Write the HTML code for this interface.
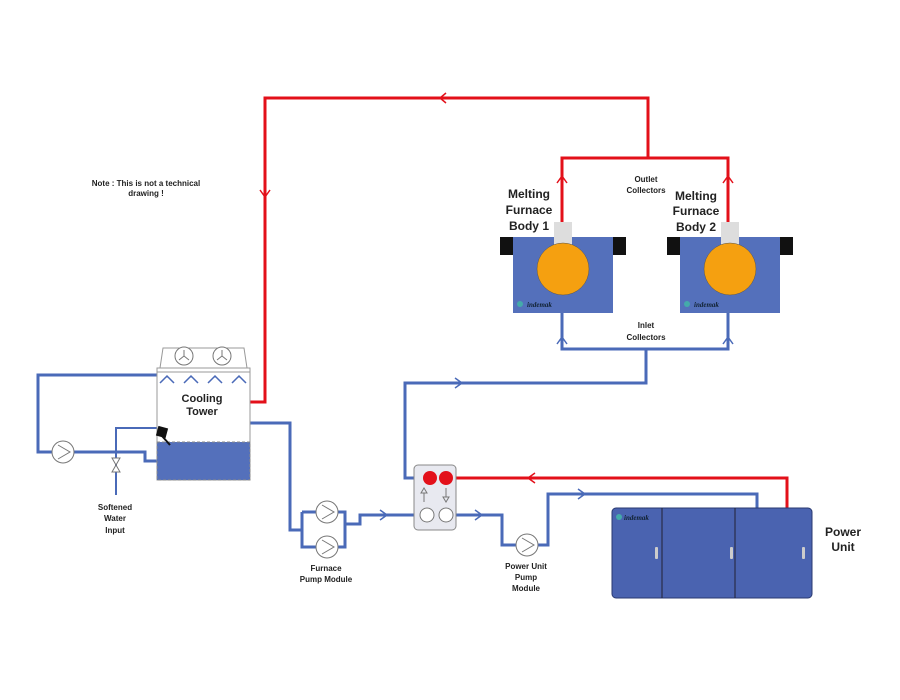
<!DOCTYPE html>
<html><head><meta charset="utf-8"><style>
html,body{margin:0;padding:0;background:#fff;}
svg{display:block;font-family:"Liberation Sans",Arial,sans-serif;font-weight:bold;}
</style></head><body>
<svg width="900" height="700" viewBox="0 0 900 700" xmlns="http://www.w3.org/2000/svg">
<g fill="none" stroke-linejoin="miter">
<!-- red lines -->
<g stroke="#e3101a" stroke-width="3">
<polyline points="250,402 265,402 265,98 648,98 648,158"/>
<polyline points="562,222 562,158 728,158 728,222"/>
<polyline points="446,478 787,478 787,508"/>
<polyline points="446,93 440,98 446,103" stroke-width="1.5"/>
<polyline points="260,190 265,197 270,190" stroke-width="1.5"/>
<polyline points="557,183 562,176 567,183" stroke-width="1.5"/>
<polyline points="723,183 728,176 733,183" stroke-width="1.5"/>
<polyline points="535,473 528,478 535,483" stroke-width="1.5"/>
</g>
<!-- blue lines -->
<g stroke="#4a6ab8" stroke-width="3">
<polyline points="562,313 562,349 728,349 728,313"/>
<polyline points="646,349 646,383 405,383 405,478 420,478"/>
<polyline points="250,423 290,423 290,530 302,530"/>
<polyline points="302,512 302,547 345,547 345,512 302,512"/>
<polyline points="345,524 360,524 360,515 420,515"/>
<polyline points="446,515 502,515 502,545 548,545 548,494 757,494 757,508"/>
<polyline points="157,375 38,375 38,452 52,452"/>
<polyline points="74,452 145,452 145,461 157,461"/>
<polyline points="116,495 116,428 160,428" stroke-width="2"/>
<polyline points="455,378 462,383 455,388" stroke-width="1.5"/>
<polyline points="380,510 387,515 380,520" stroke-width="1.5"/>
<polyline points="475,510 482,515 475,520" stroke-width="1.5"/>
<polyline points="578,489 585,494 578,499" stroke-width="1.5"/>
<polyline points="557,344 562,337 567,344" stroke-width="1.5"/>
<polyline points="723,344 728,337 733,344" stroke-width="1.5"/>
</g>
</g>
<!-- furnaces -->
<g>
<rect x="513" y="237" width="100" height="76" fill="#5470bb"/>
<rect x="500" y="237" width="13" height="18" fill="#111"/>
<rect x="613" y="237" width="13" height="18" fill="#111"/>
<rect x="554" y="222" width="18" height="24" fill="#ddd"/>
<circle cx="563" cy="269" r="26" fill="#f5a010" stroke="#555" stroke-width="0.5"/>
<circle cx="520" cy="304" r="3" fill="#4aa"/>
<text x="527" y="307" font-size="7" font-style="italic" fill="#123" font-family="Liberation Serif">indemak</text>
<rect x="680" y="237" width="100" height="76" fill="#5470bb"/>
<rect x="667" y="237" width="13" height="18" fill="#111"/>
<rect x="780" y="237" width="13" height="18" fill="#111"/>
<rect x="721" y="222" width="18" height="24" fill="#ddd"/>
<circle cx="730" cy="269" r="26" fill="#f5a010" stroke="#555" stroke-width="0.5"/>
<circle cx="687" cy="304" r="3" fill="#4aa"/>
<text x="694" y="307" font-size="7" font-style="italic" fill="#123" font-family="Liberation Serif">indemak</text>
</g>
<!-- HX -->
<rect x="414" y="465" width="42" height="65" rx="4" fill="#e8e9f0" stroke="#888"/>
<circle cx="430" cy="478" r="7" fill="#e3101a"/>
<circle cx="446" cy="478" r="7" fill="#e3101a"/>
<circle cx="427" cy="515" r="7" fill="#fff" stroke="#777"/>
<circle cx="446" cy="515" r="7" fill="#fff" stroke="#777"/>
<path d="M424,502 V493 H421 L424,488 L427,493 H424" fill="none" stroke="#777"/>
<path d="M446,488 V497 H443 L446,502 L449,497 H446" fill="none" stroke="#777"/>
<!-- pumps -->
<g fill="#fff" stroke="#777" stroke-width="1">
<circle cx="63" cy="452" r="11"/><path d="M58,445 L70,452 L58,459" fill="none"/>
<circle cx="327" cy="512" r="11"/><path d="M322,505 L334,512 L322,519" fill="none"/>
<circle cx="327" cy="547" r="11"/><path d="M322,540 L334,547 L322,554" fill="none"/>
<circle cx="527" cy="545" r="11"/><path d="M522,538 L534,545 L522,552" fill="none"/>
</g>
<!-- valve -->
<path d="M112,458 L120,472 L112,472 L120,458 Z" fill="#fff" stroke="#777"/>
<!-- cooling tower -->
<path d="M160,368 L163,348 L244,348 L247,368 Z" fill="#fff" stroke="#999"/>
<rect x="157" y="368" width="93" height="112" fill="#fff" stroke="#999"/>
<rect x="157" y="442" width="93" height="38" fill="#5470bb" stroke="#888" stroke-dasharray="3,2"/>
<circle cx="184" cy="356" r="9" fill="#fff" stroke="#777"/>
<circle cx="222" cy="356" r="9" fill="#fff" stroke="#777"/>
<path d="M184,356 L184,350 M184,356 L179,360 M184,356 L189,360 M222,356 L222,350 M222,356 L217,360 M222,356 L227,360" stroke="#777"/>
<line x1="157" y1="372" x2="250" y2="372" stroke="#999"/>
<path d="M160,383 L167,376 L174,383 M184,383 L191,376 L198,383 M208,383 L215,376 L222,383 M232,383 L239,376 L246,383" fill="none" stroke="#4a6ab8" stroke-width="1.5"/>
<rect x="157" y="427" width="10" height="10" fill="#111" transform="rotate(15 162 432)"/>
<line x1="162" y1="436" x2="170" y2="445" stroke="#111" stroke-width="2"/>
<!-- power unit -->
<rect x="612" y="508" width="200" height="90" rx="4" fill="#4a63b0" stroke="#2a3a70"/>
<line x1="662" y1="508" x2="662" y2="598" stroke="#223"/>
<line x1="735" y1="508" x2="735" y2="598" stroke="#223"/>
<g fill="#ccc"><rect x="655" y="547" width="3" height="12" rx="1"/><rect x="730" y="547" width="3" height="12" rx="1"/><rect x="802" y="547" width="3" height="12" rx="1"/></g>
<circle cx="619" cy="517" r="3" fill="#4aa"/>
<text x="624" y="520" font-size="7" font-style="italic" fill="#123" font-family="Liberation Serif">indemak</text>
<!-- text -->
<g fill="#222" text-anchor="middle">
<text x="146" y="186" font-size="8">Note : This is not a technical</text>
<text x="146" y="196" font-size="8">drawing !</text>
<text x="202" y="402" font-size="11">Cooling</text>
<text x="202" y="415" font-size="11">Tower</text>
<text x="115" y="510" font-size="8">Softened</text>
<text x="115" y="521" font-size="8">Water</text>
<text x="115" y="533" font-size="8">Input</text>
<text x="326" y="571" font-size="8">Furnace</text>
<text x="326" y="582" font-size="8">Pump Module</text>
<text x="526" y="569" font-size="8">Power Unit</text>
<text x="526" y="580" font-size="8">Pump</text>
<text x="526" y="591" font-size="8">Module</text>
<text x="843" y="536" font-size="12">Power</text>
<text x="843" y="551" font-size="12">Unit</text>
<text x="529" y="198" font-size="12">Melting</text>
<text x="529" y="214" font-size="12">Furnace</text>
<text x="529" y="230" font-size="12">Body 1</text>
<text x="696" y="200" font-size="12">Melting</text>
<text x="696" y="215" font-size="12">Furnace</text>
<text x="696" y="231" font-size="12">Body 2</text>
<text x="646" y="182" font-size="8">Outlet</text>
<text x="646" y="193" font-size="8">Collectors</text>
<text x="646" y="328" font-size="8">Inlet</text>
<text x="646" y="340" font-size="8">Collectors</text>
</g>
</svg>
</body></html>
